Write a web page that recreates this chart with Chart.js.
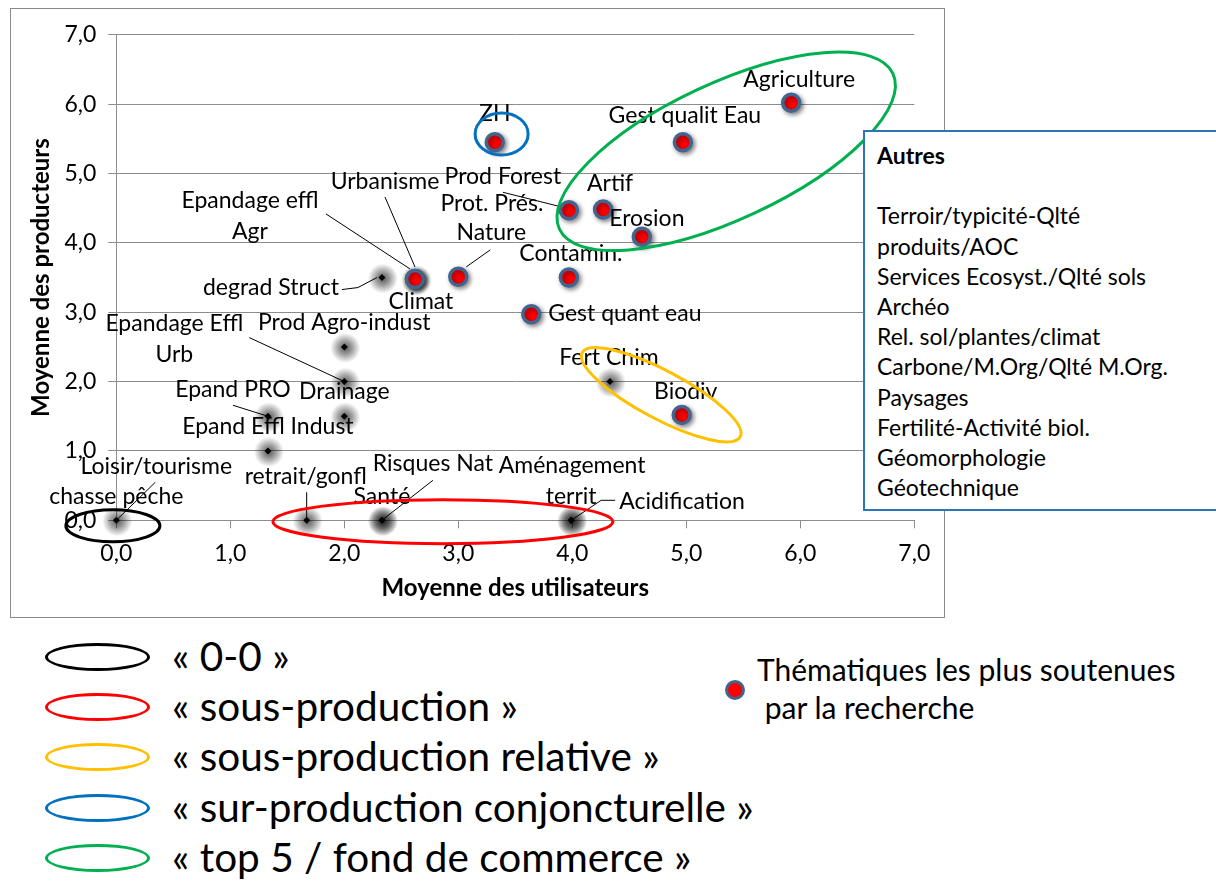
<!DOCTYPE html>
<html><head><meta charset="utf-8">
<script src="https://cdn.jsdelivr.net/npm/chart.js@4.4.1/dist/chart.umd.min.js"></script>
<style>
html,body{margin:0;padding:0;background:#fff;}
body{width:1216px;height:881px;overflow:hidden;position:relative;font-family:Lato,'Open Sans',sans-serif;color:#000;}
#chartBox{position:absolute;left:10px;top:8px;width:935px;height:610px;border:1px solid #8a8a8a;box-sizing:border-box;background:#fff;}
#chartBox canvas{display:block;}
#autres{position:absolute;left:863px;top:130px;width:380px;height:381px;border:2px solid #2e75b6;box-sizing:border-box;background:#fff;padding:8px 0 0 12px;font-size:23px;line-height:30.2px;white-space:nowrap;}
#autres b{font-weight:bold;}
.ell{position:absolute;left:45px;width:105px;height:28px;border:3.5px solid #000;border-radius:50%;box-sizing:border-box;}
.ltxt{position:absolute;left:172px;font-size:40.5px;white-space:nowrap;line-height:48px;}
#rleg{position:absolute;left:757px;top:650px;font-size:30px;line-height:38px;white-space:nowrap;}
#rdot{position:absolute;left:725px;top:680px;width:20px;height:20px;border-radius:50%;background:#ff0000;border:3.5px solid #41658f;box-sizing:border-box;}
</style>
</head><body>
<div id="chartBox"><canvas id="c" width="933" height="608"></canvas></div>
<div id="autres"><b>Autres</b><br><br>Terroir/typicité-Qlté<br>produits/AOC<br>Services Ecosyst./Qlté sols<br>Archéo<br>Rel. sol/plantes/climat<br>Carbone/M.Org/Qlté M.Org.<br>Paysages<br>Fertilité-Activité biol.<br>Géomorphologie<br>Géotechnique</div>
<div id="legend"></div>
<div id="rdot"></div>
<div id="rleg">Thématiques les plus soutenues<br>&nbsp;par la recherche</div>
<script>
// ---- data ----
const redNames = ['ZH','Gest qualit Eau','Agriculture','Prod Forest Prot. Prés.','Artif','Erosion','Contamin.','Nature','Urbanisme','Climat','Gest quant eau','Biodiv'];
const redX = [3.32,4.97,5.92,3.97,4.27,4.61,3.97,3.00,2.62,2.62,3.64,4.96];
const redY = [5.45,5.45,6.02,4.47,4.48,4.09,3.50,3.51,3.48,3.48,2.97,1.52];

const blackNames = ['degrad Struct','Epandage effl Agr','Prod Agro-indust','Epandage Effl Urb','Drainage','Epand PRO','Epand Effl Indust','Loisir/tourisme chasse pêche','retrait/gonfl','Santé','Risques Nat','Aménagement territ','Acidification','Fert Chim'];
const blackX = [2.33,2.62,2.00,2.00,2.00,1.33,1.33,0.00,1.67,2.33,2.33,3.99,3.99,4.33];
const blackY = [3.50,3.48,2.50,2.00,1.50,1.50,1.00,0.00,0.00,0.00,0.00,0.00,0.00,2.00];

const axisMin = 0, axisMax = 7, axisStep = 1;
const xTitle = 'Moyenne des utilisateurs';
const yTitle = 'Moyenne des producteurs';

const legendLabels = ['« 0-0 »','« sous-production »','« sous-production relative »','« sur-production conjoncturelle »','« top 5 / fond de commerce »'];
const legendColors = ['#000000','#ff0000','#ffc000','#0070c0','#00b050'];

// ---- label placement (pixel offsets from the point) ----
const labelLayout = {
 'ZH': {lines:[['ZH',0,-29]]},
 'Gest qualit Eau': {lines:[['Gest qualit Eau',2,-27]]},
 'Agriculture': {lines:[['Agriculture',8,-23]]},
 'Prod Forest Prot. Prés.': {lines:[['Prod Forest',-66,-34],['Prot. Prés.',-77,-7]], leader:[[-66,-18],[-10,-4]]},
 'Artif': {lines:[['Artif',7,-26]]},
 'Erosion': {lines:[['Erosion',5,-18]]},
 'Contamin.': {lines:[['Contamin.',2,-24]]},
 'Nature': {lines:[['Nature',33,-44]], leader:[[32,-27],[8,-10]]},
 'Urbanisme': {lines:[['Urbanisme',-30,-97]], leader:[[-30,-82],[0,-12]]},
 'Climat': {lines:[['Climat',6,23]]},
 'Gest quant eau': {lines:[['Gest quant eau',17,-1,'left']]},
 'Biodiv': {lines:[['Biodiv',4,-23]]},
 'degrad Struct': {lines:[['degrad Struct',-43,10,'right']], leader:[[-40,12],[-24,10],[-5,0]]},
 'Epandage effl Agr': {lines:[['Epandage effl',-165,-78],['Agr',-165,-47]], leader:[[-89,-65],[-5,-10]]},
 'Prod Agro-indust': {lines:[['Prod Agro-indust',0,-24]]},
 'Epandage Effl Urb': {lines:[['Epandage Effl',-170,-58],['Urb',-170,-27]], leader:[[-95,-44],[0,0]]},
 'Drainage': {lines:[['Drainage',0,-25]]},
 'Epand PRO': {lines:[['Epand PRO',-35,-27]], leader:[[-35,-11],[0,0]]},
 'Epand Effl Indust': {lines:[['Epand Effl Indust',0,-24]]},
 'Loisir/tourisme chasse pêche': {lines:[['Loisir/tourisme',40,-54],['chasse pêche',0,-24]], leader:[[39,-38],[0,0]]},
 'retrait/gonfl': {lines:[['retrait/gonfl',-1,-44]], leader:[[0,-28],[0,0]]},
 'Santé': {lines:[['Santé',0,-24]]},
 'Risques Nat': {lines:[['Risques Nat',51,-57]], leader:[[51,-40],[0,0]]},
 'Aménagement territ': {lines:[['Aménagement',1,-55],['territ',0,-24]]},
 'Acidification': {lines:[['Acidification',48,-19,'left']], leader:[[44,-20],[30,-20],[0,0]]},
 'Fert Chim': {lines:[['Fert Chim',-1,-24]]}
};

// ---- group ellipses (centre in data units, radii in px) ----
const ellipses = [
 {color:'#000000', cx:-0.03, cy:-0.08, rx:47, ry:16, rot:0},
 {color:'#ff0000', cx:2.865, cy:-0.02, rx:170, ry:22, rot:0},
 {color:'#ffc000', cx:4.78, cy:1.81, rx:89.5, ry:24, rot:28},
 {color:'#0070c0', cx:3.38, cy:5.57, rx:26.5, ry:21, rot:0},
 {color:'#00b050', cx:5.35, cy:5.32, rx:184, ry:68, rot:-25}
];

// legend html
const legEl = document.getElementById('legend');
legendLabels.forEach((t,i)=>{
  const cy = 657 + i*50.2;
  const e = document.createElement('div'); e.className='ell';
  e.style.top=(cy-14)+'px'; e.style.borderColor=legendColors[i]; legEl.appendChild(e);
  const s = document.createElement('div'); s.className='ltxt'; s.textContent=t;
  s.style.top=(cy-25)+'px'; legEl.appendChild(s);
});

const FONT = 'Lato';
const LABEL_SIZE = 23;
const decor = {
  id:'decor',
  beforeDatasetsDraw(chart){
    const ctx = chart.ctx;
    const meta = chart.getDatasetMeta(1);
    meta.data.forEach(pt=>{
      const x=pt.x+1, y=pt.y+1;
      const g = ctx.createRadialGradient(x,y,0,x,y,15);
      g.addColorStop(0,'rgba(0,0,0,0.65)');
      g.addColorStop(0.45,'rgba(0,0,0,0.38)');
      g.addColorStop(1,'rgba(0,0,0,0)');
      ctx.fillStyle=g; ctx.beginPath(); ctx.arc(x,y,15,0,Math.PI*2); ctx.fill();
    });
  },
  beforeDatasetDraw(chart,args){
    if(args.index===0){const c=chart.ctx;c.save();c.shadowColor='rgba(0,0,0,0.45)';c.shadowBlur=5;c.shadowOffsetX=2;c.shadowOffsetY=2;}
  },
  afterDatasetDraw(chart,args){ if(args.index===0) chart.ctx.restore(); },
  afterDatasetsDraw(chart){
    const ctx = chart.ctx;
    const draw = (names, di)=>{
      const meta = chart.getDatasetMeta(di);
      names.forEach((n,i)=>{
        const pt = meta.data[i]; const L = labelLayout[n]; if(!L) return;
        if(L.leader){
          ctx.save(); ctx.strokeStyle='#000'; ctx.lineWidth=1; ctx.beginPath();
          L.leader.forEach((p,k)=>{ if(k===0) ctx.moveTo(pt.x+p[0],pt.y+p[1]); else ctx.lineTo(pt.x+p[0],pt.y+p[1]); });
          ctx.stroke(); ctx.restore();
        }
        ctx.save(); ctx.fillStyle='#000'; ctx.font=LABEL_SIZE+'px '+FONT; ctx.textBaseline='middle';
        L.lines.forEach(l=>{ ctx.textAlign=l[3]||'center'; ctx.fillText(l[0], pt.x+l[1], pt.y+l[2]); });
        ctx.restore();
      });
    };
    draw(blackNames,1); draw(redNames,0);
    const xs = chart.scales.x, ys = chart.scales.y;
    ellipses.forEach(e=>{
      ctx.save(); ctx.strokeStyle=e.color; ctx.lineWidth=3; ctx.beginPath();
      ctx.ellipse(xs.getPixelForValue(e.cx), ys.getPixelForValue(e.cy), e.rx, e.ry, e.rot*Math.PI/180, 0, Math.PI*2);
      ctx.stroke(); ctx.restore();
    });
  }
};

// desired plot area inside the canvas
const target = {left:105.3, top:21.3, right:903.3, bottom:511.3};
let padTop = 21, padRight = 30, xH = 97, yW = 105;

const fmt = v => Number(v).toFixed(1).replace('.',',');
const chart = new Chart(document.getElementById('c'), {
  type:'scatter',
  data:{datasets:[
    {label:'Thématiques les plus soutenues par la recherche', data:redX.map((x,i)=>({x, y:redY[i]})),
     backgroundColor:'#ff0000', borderColor:'#41658f', borderWidth:3.5, pointRadius:8.5, pointHoverRadius:8.5, clip:false},
    {label:'Autres', data:blackX.map((x,i)=>({x, y:blackY[i]})),
     pointStyle:'rectRot', backgroundColor:'#000', borderColor:'#000', borderWidth:0, pointRadius:3.5, pointHoverRadius:3.5, clip:false}
  ]},
  options:{
    responsive:false, animation:false, events:[],
    layout:{padding:{top:padTop,right:padRight,left:0,bottom:0}},
    plugins:{legend:{display:false}, tooltip:{enabled:false}},
    scales:{
      x:{type:'linear', min:axisMin, max:axisMax,
        ticks:{stepSize:axisStep, callback:fmt, font:{family:FONT,size:23}, color:'#000', padding:11, maxRotation:0},
        grid:{drawOnChartArea:false, drawTicks:true, tickLength:8, color:'#8c8c8c'},
        border:{color:'#8c8c8c', width:1},
        title:{display:true, text:xTitle, color:'#000', font:{family:FONT,size:24,weight:'bold'}, padding:{top:0,bottom:14}},
        afterFit(s){ s.height = xH; }
      },
      y:{type:'linear', min:axisMin, max:axisMax,
        ticks:{stepSize:axisStep, callback:fmt, font:{family:FONT,size:23}, color:'#000', padding:12},
        grid:{color:'#8c8c8c', tickLength:8},
        border:{color:'#8c8c8c', width:1},
        title:{display:true, text:yTitle, color:'#000', font:{family:FONT,size:24,weight:'bold'}, padding:{top:16,bottom:0}},
        afterFit(s){ s.width = yW; }
      }
    }
  },
  plugins:[decor]
});
for(let k=0;k<3;k++){
  const a = chart.chartArea;
  padTop += target.top - a.top;
  padRight += a.right - target.right;
  xH += a.bottom - target.bottom;
  yW += target.left - a.left;
  chart.options.layout.padding = {top:padTop,right:padRight,left:0,bottom:0};
  chart.update();
}
</script>
</body></html>
